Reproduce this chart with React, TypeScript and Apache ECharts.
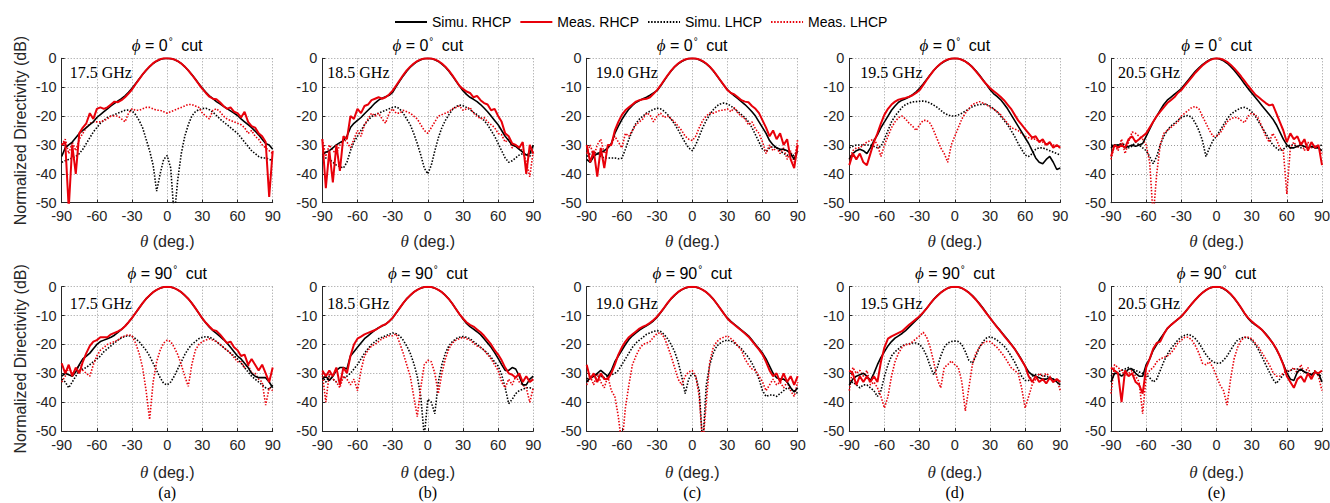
import React, { useEffect, useRef } from "react";
import * as echarts from "echarts";

// ---------- categories / labels ----------
const THETA = [
  -90, -87, -84, -81, -78, -75, -72, -69, -66, -63,
  -60, -57, -54, -51, -48, -45, -42, -39, -36, -33,
  -30, -27, -24, -21, -18, -15, -12, -9, -6, -3,
  0,
  3, 6, 9, 12, 15, 18, 21, 24, 27, 30,
  33, 36, 39, 42, 45, 48, 51, 54, 57, 60,
  63, 66, 69, 72, 75, 78, 81, 84, 87, 90,
];
const SERIES_NAMES = ["Simu. RHCP", "Meas. RHCP", "Simu. LHCP", "Meas. LHCP"];
const FREQ_LABELS = ["17.5 GHz", "18.5 GHz", "19.0 GHz", "19.5 GHz", "20.5 GHz"];
const CUT_ANGLES = ["0", "90"];
const PANEL_TAGS = ["(a)", "(b)", "(c)", "(d)", "(e)"];
const Y_NAME = "Normalized Directivity (dB)";
const X_NAME = "(deg.)";
const X_MIN = -90, X_MAX = 90, X_STEP = 30;
const Y_MIN = -50, Y_MAX = 0, Y_STEP = 10;

// ---------- phi = 0 cut ----------
const A0_SR = [
  -34, -31, -30, -29, -27.5, -26, -25, -24, -23, -22,
  -20.5, -19.5, -18.5, -17.5, -16.5, -15.6, -14.8, -14, -13, -11.8,
  -10.4, -8.8, -7.2, -5.6, -4.2, -2.9, -1.8, -1, -0.4, -0.1,
  0,
  -0.1, -0.4, -1, -1.8, -2.9, -4.2, -5.6, -7.2, -8.8, -10.4,
  -11.8, -13, -14, -15, -15.8, -16.6, -17.4, -18.2, -19, -19.8,
  -21, -22, -23, -24, -25.2, -26.5, -28, -29.5, -30, -31.5,
];
const A0_MR = [
  -30, -29, -52, -30, -40, -26, -24, -22.5, -19, -21,
  -17.5, -17, -17.5, -17, -16, -15, -15.2, -14.5, -13.5, -12.2,
  -10.8, -9, -7.3, -5.6, -4.1, -2.8, -1.7, -0.9, -0.3, 0,
  0,
  -0.1, -0.4, -1, -1.8, -2.9, -4.2, -5.7, -7.3, -9, -10.6,
  -12, -13.3, -14, -14.2, -15.2, -16.5, -17.5, -17, -18.5, -19,
  -20.5, -18.5, -22, -23.5, -24, -26, -27, -29, -48, -32,
];
const A0_SL = [
  -36, -35.5, -35, -34.5, -34, -33, -31.5, -29.5, -27.5, -25.5,
  -24, -22.5, -21.5, -20.5, -20, -19.5, -19, -18.5, -18, -17.9,
  -18.2, -19.5, -21.5, -24, -28, -32, -37, -46, -40, -35,
  -33.7,
  -38, -55, -42, -33, -27, -23, -20, -18.5, -17.8, -17.4,
  -17.3, -17.8, -18.7, -19.8, -21, -22, -23, -24, -25, -26,
  -27.5, -29, -30.5, -32, -33, -34, -34.5, -34.5, -35, -35.5,
];
const A0_ML = [
  -30, -28, -33, -29, -32, -28, -26, -24, -22.5, -22,
  -22, -22, -21.5, -21, -20, -20, -20, -21, -22, -19,
  -17.5, -18, -18, -17.5, -17, -17, -17.5, -18, -18, -18.5,
  -19,
  -18.5, -18, -17.5, -17, -16.5, -16, -16, -16.5, -17, -19,
  -20, -21, -18, -17.5, -18.5, -20, -21, -21.5, -22, -22.5,
  -23, -24, -26, -25, -27, -28, -30, -31, -32, -33,
];

const B0_SR = [
  -33.5, -32.5, -32, -31, -30, -29.2, -28.5, -27, -24, -22.5,
  -21.5, -20.5, -19.2, -18, -16.8, -15.5, -14.5, -13.8, -13.3, -12.8,
  -11.8, -9.8, -7.9, -6.1, -4.5, -3.1, -2, -1.1, -0.5, -0.1,
  0,
  -0.1, -0.5, -1.1, -2, -3.1, -4.5, -6.1, -7.9, -9.6, -11.2,
  -12.5, -13.5, -14.2, -15, -16, -17.2, -18.5, -20, -21.5, -23,
  -25, -27, -28.5, -30, -30.5, -31.5, -32.5, -33.5, -33, -30,
];
const B0_MR = [
  -28, -45, -32, -43, -30, -39, -27, -28, -20, -21,
  -17.5, -19, -16.5, -16, -14.5, -14, -13.5, -14, -13.5, -12.5,
  -11.2, -9.4, -7.6, -5.8, -4.2, -2.9, -1.8, -1, -0.4, -0.1,
  0,
  -0.1, -0.4, -1, -1.8, -2.9, -4.3, -5.9, -7.7, -9.5, -10.6,
  -11.5, -12, -13.5, -13, -14.5, -15.5, -16, -18, -17.5, -20,
  -22, -26, -27, -29.5, -30, -31, -29, -40, -30, -33,
];
const B0_SL = [
  -34, -34.5, -35, -36, -37, -37.5, -38, -36, -32, -29,
  -27, -25, -23, -21.5, -20.2, -19.5, -19, -18.5, -18, -17.5,
  -17, -16.8, -17.5, -19, -21, -23, -26, -29.5, -33.5, -38,
  -40,
  -37, -32, -27.5, -24, -21.5, -19.5, -17.8, -16.7, -16.2, -16.4,
  -17, -17.8, -18.7, -19.5, -20.5, -21.5, -23, -25, -27, -29.5,
  -32, -34.5, -36, -35.5, -34.5, -33.5, -33, -33.5, -34, -30,
];
const B0_ML = [
  -28, -34, -30, -32, -33, -30, -28, -29, -31, -28,
  -25, -27, -23, -21, -19, -20, -19, -21, -22.5, -19,
  -17.5, -19, -19, -18, -18.5, -19, -20, -21, -23, -25,
  -26,
  -24, -22, -20, -19.5, -19, -18.5, -17.5, -17, -16.5, -18,
  -17.5, -17, -19, -20, -21, -20.5, -22, -23, -24, -26,
  -26.5, -29, -28, -31, -30, -31, -32, -36, -41, -32,
];

const C0_SR = [
  -35, -36, -34, -33, -32.5, -32, -31, -29.5, -26, -23.5,
  -21.2, -19.3, -17.6, -16.3, -15.3, -14.6, -14, -13.5, -12.8, -12,
  -11.2, -9.6, -7.8, -6, -4.4, -3, -1.9, -1.1, -0.5, -0.1,
  0,
  -0.1, -0.5, -1.1, -1.9, -3, -4.4, -6, -7.7, -9.3, -10.8,
  -12, -13, -14, -15, -16, -17.2, -18.5, -20, -22, -24,
  -26, -28.5, -30, -31, -31.5, -31.5, -32, -33, -35, -32,
];
const C0_MR = [
  -30, -36, -32, -41, -31, -38, -30, -30, -25, -22,
  -19.6, -18, -17, -16, -15, -14.5, -14.2, -14, -13.5, -12.3,
  -11, -9.4, -7.6, -5.9, -4.3, -2.9, -1.8, -1, -0.4, -0.1,
  0,
  -0.1, -0.4, -1, -1.8, -2.9, -4.3, -5.9, -7.6, -9.3, -11,
  -12, -12.5, -13.5, -14.5, -15, -15.2, -16.5, -17.5, -19, -21.5,
  -24, -27, -25, -28, -26, -30, -28, -35, -38, -30,
];
const C0_SL = [
  -34, -33, -32.5, -33, -34, -34.5, -34.5, -34.5, -34.5, -34.8,
  -34.6, -31.5, -28, -25, -22.5, -21, -20, -19, -18.3, -17.7,
  -17.3, -17.5, -18.3, -19.5, -21, -22.8, -24.8, -27, -29.2, -31,
  -32,
  -30, -27, -24, -21.5, -19.5, -17.8, -16.5, -15.8, -15.5, -15.8,
  -16.5, -17.5, -18.5, -19.5, -20.5, -22, -24, -26.5, -29, -31.5,
  -32.3, -31, -30.5, -31, -32, -33, -33.5, -34, -33.5, -32,
];
const C0_ML = [
  -33, -30, -34, -30, -28, -33, -31, -30, -27, -29,
  -31, -26, -27, -25, -23, -22, -21, -19, -19.5, -22,
  -20, -19, -20.5, -20, -21, -22, -23.5, -25, -27, -28,
  -28.5,
  -27, -24, -21.5, -20, -19, -19, -18.5, -18, -18, -17.5,
  -18.5, -17, -19, -20, -21, -23, -22, -24.5, -26, -29,
  -33, -30, -32, -31, -33, -31, -35, -32, -36, -28,
];

const D0_SR = [
  -35, -33, -32, -31.5, -32, -33, -31, -28.5, -26.5, -24,
  -22, -20, -18, -16.5, -15.2, -14.5, -14, -13.4, -12.6, -11.6,
  -10.4, -8.9, -7.3, -5.7, -4.2, -2.9, -1.9, -1.1, -0.5, -0.1,
  0,
  -0.1, -0.5, -1.1, -1.9, -3, -4.3, -5.8, -7.4, -9.1, -10.8,
  -12.2, -13.2, -14.3, -15.8, -17.5, -19.5, -21.5, -23.5, -25.5, -27.5,
  -29.5, -32, -34.5, -36, -36.5, -35, -34, -36, -38.5, -38,
];
const D0_MR = [
  -37, -33, -35, -33, -36, -37, -33, -29, -26, -22.5,
  -19.5, -17.5, -16, -15, -14.3, -14, -13.7, -13.3, -12.8, -12,
  -11, -9.3, -7.5, -5.8, -4.2, -2.9, -1.8, -1, -0.4, -0.1,
  0,
  -0.1, -0.5, -1.1, -2, -3.1, -4.5, -6, -7.6, -9, -10.3,
  -11.3, -12.3, -13.3, -14.5, -16, -17.5, -19.5, -21.5, -23, -24.5,
  -26, -27.5, -27, -29, -28, -30, -29, -31, -30, -31,
];
const D0_SL = [
  -31, -30.5, -30, -30, -30, -30, -30, -30.5, -31, -30.5,
  -28, -25, -22, -20, -18.5, -17, -16, -15.5, -15.1, -15,
  -14.9, -14.8, -15, -15.5, -16.2, -17, -18, -19, -19.6, -20,
  -20,
  -19.6, -19, -18.3, -17.5, -16.8, -16.3, -16, -15.9, -16, -16.5,
  -17.5, -18.5, -20, -21.5, -23, -25, -27, -29.5, -31.5, -33.5,
  -34, -33, -31.5, -31, -31, -31.5, -32, -32.5, -33, -33.5,
];
const D0_ML = [
  -35, -32, -31, -31, -30, -29, -28.5, -28, -30, -34,
  -30, -27, -24, -22, -20.5, -20, -21, -22.5, -23.5, -25,
  -23, -21.5, -21.5, -22.5, -25, -28, -31, -33, -36, -30,
  -27,
  -24, -21, -19, -17.5, -16, -15.5, -15, -15.5, -16, -17,
  -17.5, -18.5, -19.5, -21, -22.5, -24, -24.5, -25, -26, -27,
  -27.5, -28, -28, -29, -29, -30, -29.5, -30, -30.5, -31,
];

const E0_SR = [
  -31, -30, -30, -30, -31, -30.5, -30, -30.5, -30, -29.5,
  -27, -24.5, -22, -20, -18, -16, -14.5, -13.5, -12.5, -11.5,
  -10.5, -9, -7.5, -6, -4.5, -3.3, -2.2, -1.3, -0.6, -0.1,
  0,
  -0.3, -0.9, -1.7, -2.8, -4.1, -5.6, -7.2, -8.9, -10.5, -12,
  -13.5, -15, -16.5, -18, -19.5, -21, -23, -25.5, -28, -30,
  -31, -31, -30.5, -30, -30.5, -31, -30.5, -31, -31, -32,
];
const E0_MR = [
  -34, -30, -31, -30, -31, -28, -27, -29, -28, -27,
  -26, -24, -22, -20, -18.5, -17, -15.5, -14.5, -13.5, -12,
  -11, -9.5, -8, -6.5, -5, -3.7, -2.5, -1.5, -0.7, -0.2,
  0,
  -0.1, -0.5, -1.2, -2.2, -3.4, -4.8, -6.3, -7.9, -9.5, -11,
  -12.5, -13.5, -14.5, -15.5, -16.3, -16, -19, -22, -25, -29,
  -26, -28, -27, -30, -28, -32, -29, -31, -30, -37,
];
const E0_SL = [
  -30, -30, -30, -29.5, -30, -31, -30.5, -29, -30, -31,
  -32, -34, -36.5, -34, -30, -27, -25, -23.5, -22.5, -21.5,
  -20.5, -20, -19.8, -20.5, -22.5, -25, -28.5, -34, -31, -28.5,
  -27,
  -25, -23, -21, -19.5, -18.5, -17.8, -17.2, -17, -17.5, -18.5,
  -20, -22, -24, -26, -28, -30, -31, -32, -31.5, -30.5,
  -30, -30, -30.5, -31, -30.5, -30, -30.5, -31, -30.5, -30,
];
const E0_ML = [
  -35, -30, -32, -28, -33, -29, -25.5, -26, -27, -28,
  -30, -36, -55, -40, -30, -26, -25, -24, -23, -22,
  -20, -19, -18, -17, -16.7, -17.5, -20, -22.5, -25, -27,
  -27,
  -26, -24, -22, -21, -20.5, -20.5, -21.5, -22.3, -20, -19,
  -19.5, -21, -24, -27, -29, -26, -28, -31, -32, -47,
  -31, -29, -31, -29, -32, -29, -31, -30, -31, -33,
];

// ---------- phi = 90 cut ----------
const A9_SR = [
  -31, -30, -30.5, -31, -29.5, -27, -25, -24, -23, -21.5,
  -20, -19, -18.5, -18, -17.5, -16.8, -15.8, -14.8, -13.7, -12.3,
  -10.8, -9.1, -7.4, -5.7, -4.2, -3, -1.9, -1.1, -0.5, -0.1,
  0,
  -0.1, -0.5, -1.1, -1.9, -3, -4.2, -5.7, -7.4, -9.2, -11,
  -12.6, -14, -15.2, -16.2, -17.2, -18.3, -19.5, -21, -22.5, -24,
  -25, -26.5, -28, -30, -31, -31.5, -31.5, -31.5, -33, -35,
];
const A9_MR = [
  -26.5, -30, -27, -31, -28, -30, -26, -23, -20.5, -19,
  -18.5, -17.5, -17.5, -17.5, -16.5, -16, -15.5, -14.8, -13.7, -12.3,
  -10.8, -9.1, -7.4, -5.7, -4.2, -3, -1.9, -1.1, -0.5, -0.1,
  0,
  -0.1, -0.5, -1.1, -1.9, -3, -4.2, -5.7, -7.4, -9.2, -11,
  -12.5, -13.8, -15, -15.3, -16.5, -18, -19.5, -19, -21, -22,
  -24, -23.5, -27, -25, -27, -29, -27, -30, -33, -28,
];
const A9_SL = [
  -32, -33, -35, -33, -31, -29, -28.5, -28, -27, -26,
  -25, -24, -22.5, -21.5, -20.5, -19.5, -18.5, -17.7, -17.2, -17,
  -17.2, -18, -19, -20.5, -22, -24, -26.5, -29, -31.5, -33.5,
  -34,
  -33, -31, -28.5, -26, -23.5, -21.5, -20, -19, -18, -17.5,
  -17.3, -17.5, -18, -19, -20, -21, -22, -23, -24, -25,
  -26.5, -28, -29.5, -31, -32, -33, -34, -35, -35.5, -34,
];
const A9_ML = [
  -33, -31, -28, -30, -29, -27, -29, -30, -31, -27,
  -24, -22, -21, -20, -19.5, -19, -18.5, -17.5, -17, -16.6,
  -17, -19.5, -23, -28, -36, -46, -33, -26, -22, -19.5,
  -18.5,
  -19, -21, -23.5, -27, -31, -34.5, -27, -22, -20, -19,
  -18.5, -18, -18.5, -19, -20, -21, -22, -23, -24.5, -26,
  -26, -28, -27, -30, -30, -32, -33, -41, -35, -36,
];

const B9_SR = [
  -32, -31, -32.5, -31, -29, -28, -28, -28.5, -24, -22.5,
  -21, -19.5, -18, -17, -16, -15, -14.2, -13.6, -13, -12,
  -10.8, -9.1, -7.4, -5.7, -4.2, -3, -1.9, -1.1, -0.5, -0.1,
  0,
  -0.1, -0.5, -1.1, -1.9, -3, -4.3, -5.9, -7.7, -9.5, -11.2,
  -12.7, -13.8, -14.7, -15.6, -16.6, -18, -19.5, -21, -22.8, -24.8,
  -27, -29, -29, -28, -28.5, -31, -34, -34, -32, -31,
];
const B9_MR = [
  -29, -31, -29, -31, -28, -34, -28, -30, -24, -20,
  -18, -17.3, -16.5, -16, -15.5, -15, -14.3, -13.5, -13, -12,
  -10.8, -9.1, -7.4, -5.7, -4.2, -3, -1.9, -1.1, -0.5, -0.1,
  0,
  -0.1, -0.5, -1.1, -1.9, -3, -4.3, -5.9, -7.7, -9.5, -11,
  -12.3, -13.2, -13.8, -14.8, -15.8, -17, -18.5, -20, -22, -23.5,
  -25.5, -28, -30, -30.5, -31.5, -30, -33, -31, -33, -32,
];
const B9_SL = [
  -31, -33, -31, -32, -33, -32, -31.5, -31, -30, -28.5,
  -27, -25, -23, -21.5, -20, -19, -18, -17.5, -17, -16.5,
  -16, -16.3, -17, -18.5, -20.5, -23, -26.5, -31, -38, -52,
  -39,
  -40, -44, -33, -27, -23, -20.5, -19, -18, -17.5, -17.3,
  -17.5, -18, -19, -20, -21, -22, -23, -24.5, -26, -27.5,
  -30.5, -35, -40.5, -39, -37, -36, -35.5, -35, -35, -35.5,
];
const B9_ML = [
  -30, -40, -30, -32, -33, -35, -31, -32, -34, -32,
  -36, -29, -24, -22, -20.5, -20, -19, -18, -17.5, -17,
  -17, -16.3, -19.5, -23, -27, -31, -38, -45, -35, -27,
  -25.5,
  -26, -30, -37, -30, -25, -21.5, -19.5, -18.5, -18, -17.5,
  -18, -18.5, -19.5, -20.5, -21, -22, -23.5, -25, -27, -29,
  -33, -35, -32, -34, -31, -33, -34, -35, -40, -35,
];

const C9_SR = [
  -33, -31.5, -31, -30, -29, -30, -31, -29, -26, -24,
  -22, -20, -18.3, -17, -16, -15, -14.2, -13.5, -12.8, -11.8,
  -10.6, -9, -7.4, -5.7, -4.2, -3, -1.9, -1.1, -0.5, -0.1,
  0,
  -0.1, -0.5, -1.1, -1.9, -3, -4.3, -5.9, -7.6, -9.3, -10.8,
  -12, -13, -14, -15, -16, -17, -18.5, -20, -21.5, -23,
  -25, -27.5, -30, -31.5, -32, -32, -33, -35, -36.5, -35,
];
const C9_MR = [
  -27, -32, -30, -33, -30, -32, -32, -30, -27, -23.5,
  -21, -19, -17.5, -16.5, -15.5, -14.5, -13.8, -13.3, -12.5, -11.5,
  -10.4, -8.9, -7.3, -5.6, -4.1, -2.9, -1.8, -1, -0.4, -0.1,
  0,
  -0.1, -0.5, -1.1, -1.9, -3, -4.3, -5.9, -7.6, -9.3, -11,
  -12.2, -13.2, -14.2, -15.2, -16.2, -17.3, -18.8, -20.3, -21.8, -23.5,
  -26, -29, -31, -30, -33, -30, -33, -31, -34, -31,
];
const C9_SL = [
  -32, -31, -31.5, -31, -31, -31.5, -31, -30.5, -30, -29,
  -27, -25, -23, -21, -19.5, -18.5, -17.5, -16.5, -16, -15.5,
  -15.2, -15.5, -16.5, -18, -20, -22.5, -26, -31, -37, -32,
  -30,
  -31, -36, -55, -34, -27, -23, -20.5, -19.5, -18.8, -18.5,
  -18.8, -19.5, -20.5, -21.5, -23, -24.5, -26.5, -29, -32, -36,
  -38, -37.5, -37.5, -38, -37, -36, -35, -35.5, -36, -37,
];
const C9_ML = [
  -34, -31, -34, -30, -33, -35, -31, -36, -38, -45,
  -55, -42, -34, -27, -24, -21.5, -20, -19.5, -19, -17.5,
  -16.2, -16, -17.5, -20.5, -24, -28, -32, -34, -31, -29.5,
  -29,
  -31, -38, -55, -40, -26, -21, -19, -18, -17.5, -17,
  -18, -19, -20.5, -22, -25, -27, -28.5, -29, -31, -33,
  -36, -34, -32, -34, -33, -35, -33, -36, -38, -33,
];

const D9_SR = [
  -34, -32, -31, -30.5, -30, -31, -32.5, -30, -27, -24.5,
  -22.5, -20.5, -19, -17.8, -17, -16.2, -15.2, -14, -12.8, -11.6,
  -10.5, -9, -7.5, -5.9, -4.4, -3.1, -2, -1.2, -0.5, -0.1,
  0,
  -0.1, -0.5, -1.2, -2, -3.1, -4.4, -5.8, -7.4, -9.1, -10.8,
  -12.4, -13.9, -15.3, -16.8, -18.3, -19.8, -21.5, -23.3, -25.3, -27.5,
  -29.5, -30.5, -31, -31.5, -32, -32, -31.5, -32, -33, -34,
];
const D9_MR = [
  -29, -30, -34, -31, -33, -31, -33, -31, -33, -26,
  -21, -18, -17.2, -16.6, -16, -15.4, -14.3, -13.2, -12.2, -11.2,
  -10.2, -8.9, -7.5, -5.9, -4.4, -3.2, -2.1, -1.2, -0.5, -0.1,
  0,
  -0.1, -0.5, -1.2, -2.1, -3.2, -4.5, -6, -7.6, -9.2, -10.8,
  -12.4, -14, -15.5, -17, -18.5, -20, -21.5, -23.5, -25.5, -27.5,
  -31, -33, -31, -33, -32, -33.5, -31.5, -33, -32, -33,
];
const D9_SL = [
  -34, -33, -34, -35, -34, -34, -35, -36, -38, -36,
  -31, -27, -24, -22.5, -21.5, -20.5, -20, -19.8, -19.5, -19.5,
  -20, -21.5, -24, -27.5, -30.5, -28, -24, -21, -19.5, -19,
  -18.8,
  -19, -20, -22.5, -25.5, -26.5, -24, -21, -19, -17.8, -17.3,
  -17.8, -18.5, -19.5, -20.5, -22, -24, -26, -28.5, -31, -32.5,
  -32.5, -31, -30.5, -30.5, -30.8, -31, -31.5, -32, -32.5, -33,
];
const D9_ML = [
  -36, -28, -30, -29, -31, -29, -34, -33, -35, -38,
  -42, -38, -31, -26, -23, -21, -20, -20, -19, -18,
  -17, -15.8, -17.5, -21, -26, -32, -35, -28, -27, -25.7,
  -27,
  -28, -33, -43, -35, -27, -23, -21, -19.5, -19, -19,
  -20, -21, -22.5, -24, -26, -28, -29, -30, -35, -42,
  -38, -34, -32, -30, -31, -30, -31, -33, -32, -36,
];

const E9_SR = [
  -33, -30, -30, -31, -30, -28.5, -28.5, -30, -31, -31,
  -27, -25, -22, -20, -18, -16.3, -14.5, -13.3, -12.3, -11.3,
  -10.3, -8.9, -7.4, -5.9, -4.5, -3.2, -2.1, -1.2, -0.5, -0.1,
  0,
  -0.2, -0.7, -1.5, -2.6, -4, -5.6, -7.4, -9.3, -11, -12.3,
  -13.2, -14, -15, -16.3, -17.8, -19.6, -21.6, -24, -26.8, -29.8,
  -32, -32.5, -29.5, -28.5, -29.5, -30, -30.5, -29.5, -30, -33,
];
const E9_MR = [
  -28, -29, -30, -40, -29, -31, -30, -33, -34, -37,
  -28, -25, -21.5, -19.5, -19, -16.5, -14.5, -13.3, -12.3, -11.3,
  -10.3, -8.9, -7.4, -5.9, -4.5, -3.2, -2.1, -1.2, -0.5, -0.1,
  0,
  -0.1, -0.6, -1.4, -2.5, -3.9, -5.5, -7.3, -9.2, -10.8, -12,
  -13, -14, -15, -16.5, -18, -19.5, -21.5, -24, -27, -31,
  -33, -35, -32, -31, -33, -30, -32, -29.5, -30, -29,
];
const E9_SL = [
  -31, -30, -29.5, -29, -28.5, -28, -28.5, -29, -29.5, -30,
  -30.5, -31.5, -33, -32, -29, -26, -23.5, -21.5, -20, -18.5,
  -17.5, -16.8, -16.5, -17, -18, -19.5, -21.5, -23.5, -25, -26,
  -26.5,
  -26.5, -25.5, -24, -22, -20, -18.5, -17.8, -17.5, -17.8, -18.5,
  -20, -22, -24.5, -27, -29.5, -32, -33.5, -32, -30.5, -29.5,
  -29, -28.5, -28.5, -29, -29.5, -30, -30.5, -30, -30.5, -31,
];
const E9_ML = [
  -37, -27, -28, -29, -31, -30, -29, -31, -33, -44,
  -31, -29, -28, -26, -25, -24.5, -24, -23, -21.5, -19.5,
  -18.5, -17.5, -17.5, -18.5, -20.5, -23, -26.5, -27, -26, -28,
  -31,
  -34, -36, -41, -32, -25, -21, -18.5, -17.5, -17.5, -18,
  -19.5, -21, -23, -25, -27, -29.5, -31, -31, -30, -29,
  -29, -28, -30, -27, -30, -28, -31, -29, -31, -36,
];

// rows: [phi=0, phi=90]; each panel: [Simu RHCP, Meas RHCP, Simu LHCP, Meas LHCP]
const PANEL_CURVES = [
  [
    [A0_SR, A0_MR, A0_SL, A0_ML],
    [B0_SR, B0_MR, B0_SL, B0_ML],
    [C0_SR, C0_MR, C0_SL, C0_ML],
    [D0_SR, D0_MR, D0_SL, D0_ML],
    [E0_SR, E0_MR, E0_SL, E0_ML],
  ],
  [
    [A9_SR, A9_MR, A9_SL, A9_ML],
    [B9_SR, B9_MR, B9_SL, B9_ML],
    [C9_SR, C9_MR, C9_SL, C9_ML],
    [D9_SR, D9_MR, D9_SL, D9_ML],
    [E9_SR, E9_MR, E9_SL, E9_ML],
  ],
];

// ---------- layout & style ----------
const COL_LEFT = [61.7, 322.3, 586.7, 849.3, 1111];
const PLOT_W = 211;
const ROW_TOP = [58.3, 286.7];
const PLOT_H = 144.4;
const FREQ_DX = [8, 5, 9, 11, 7];
const FREQ_DY = [14, 17];
const TITLE_Y = [45, 273];
const XNAME_Y = [241, 472];
const TAG_Y = 492;

const SANS = "'Liberation Sans', Arial, Helvetica, sans-serif";
const SERIF = "'Liberation Serif', 'Times New Roman', 'DejaVu Serif', serif";
const AXIS_COLOR = "#262626";
const RED = "#e8000a";
const DOT: number[] = [1.5, 1.6];
const LINE_STYLES = [
  { color: "#000000", width: 1.6, type: "solid" as any, z: 3 },
  { color: RED, width: 2, type: "solid" as any, z: 4 },
  { color: "#000000", width: 1.6, type: DOT as any, z: 1 },
  { color: RED, width: 1.6, type: DOT as any, z: 2 },
];
const DRAW_ORDER = [2, 3, 0, 1];

function buildOption() {
  const grids: any[] = [];
  const xAxes: any[] = [];
  const yAxes: any[] = [];
  const series: any[] = [];
  const graphics: any[] = [];
  let idx = 0;
  for (let r = 0; r < 2; r++) {
    for (let c = 0; c < 5; c++) {
      grids.push({
        left: COL_LEFT[c],
        top: ROW_TOP[r],
        width: PLOT_W,
        height: PLOT_H,
        containLabel: false,
        outerBoundsMode: "none",
      });
      xAxes.push({
        gridIndex: idx,
        type: "value",
        min: X_MIN,
        max: X_MAX,
        interval: X_STEP,
        axisLine: { show: true, onZero: false, lineStyle: { color: AXIS_COLOR, width: 1 } },
        axisTick: { show: true, inside: true, length: 3, lineStyle: { color: AXIS_COLOR } },
        axisLabel: {
          color: AXIS_COLOR,
          fontSize: 14.5,
          fontFamily: SANS,
          margin: 6,
          showMinLabel: true,
          showMaxLabel: true,
        },
        splitLine: { show: true, lineStyle: { color: "#9a9a9a", type: [1, 2], width: 1 } },
      });
      yAxes.push({
        gridIndex: idx,
        type: "value",
        min: Y_MIN,
        max: Y_MAX,
        interval: Y_STEP,
        axisLine: { show: true, onZero: false, lineStyle: { color: AXIS_COLOR, width: 1 } },
        axisTick: { show: true, inside: true, length: 3, lineStyle: { color: AXIS_COLOR } },
        axisLabel: {
          color: AXIS_COLOR,
          fontSize: 14.5,
          fontFamily: SANS,
          margin: 5,
          showMinLabel: true,
          showMaxLabel: true,
        },
        splitLine: { show: true, lineStyle: { color: "#9a9a9a", type: [1, 2], width: 1 } },
      });
      const curves = PANEL_CURVES[r][c];
      for (const k of DRAW_ORDER) {
        const st = LINE_STYLES[k];
        series.push({
          name: SERIES_NAMES[k],
          type: "line",
          xAxisIndex: idx,
          yAxisIndex: idx,
          data: THETA.map((t, i) => [t, curves[k][i]]),
          symbol: "none",
          showSymbol: false,
          clip: true,
          silent: true,
          z: st.z,
          color: st.color,
          itemStyle: { color: st.color },
          lineStyle: { color: st.color, width: st.width, type: st.type, cap: "butt" },
          emphasis: { disabled: true },
        });
      }

      const cx = COL_LEFT[c] + PLOT_W / 2;
      // panel title
      graphics.push({
        type: "text",
        x: cx,
        y: TITLE_Y[r],
        z: 100,
        silent: true,
        style: {
          text: `{p|\u03D5} = ${CUT_ANGLES[r]}{d|\u00B0} cut`,
          fontFamily: SANS,
          fontSize: 16,
          fill: "#000",
          align: "center",
          verticalAlign: "middle",
          rich: {
            p: { fontFamily: SERIF, fontStyle: "italic", fontSize: 17, fill: "#000" },
            d: { fontFamily: SANS, fontSize: 10, verticalAlign: "top", padding: [0, 4, 0, 1], fill: "#000" },
          },
        },
      });
      // frequency label
      graphics.push({
        type: "text",
        x: COL_LEFT[c] + FREQ_DX[c],
        y: ROW_TOP[r] + FREQ_DY[r],
        z: 100,
        silent: true,
        style: {
          text: FREQ_LABELS[c],
          fontFamily: SERIF,
          fontSize: 16,
          fill: "#000",
          align: "left",
          verticalAlign: "middle",
        },
      });
      // x-axis name
      graphics.push({
        type: "text",
        x: cx,
        y: XNAME_Y[r],
        z: 100,
        silent: true,
        style: {
          text: `{t|\u03B8} ${X_NAME}`,
          fontFamily: SANS,
          fontSize: 16,
          fill: AXIS_COLOR,
          align: "center",
          verticalAlign: "middle",
          rich: {
            t: { fontFamily: SERIF, fontStyle: "italic", fontSize: 17, fill: AXIS_COLOR },
          },
        },
      });
      idx++;
    }
    // y-axis name
    graphics.push({
      type: "text",
      x: 20.5,
      y: ROW_TOP[r] + PLOT_H / 2,
      rotation: Math.PI / 2,
      z: 100,
      silent: true,
      style: {
        text: Y_NAME,
        fontFamily: SANS,
        fontSize: 16,
        fill: AXIS_COLOR,
        align: "center",
        verticalAlign: "middle",
      },
    });
  }
  for (let c = 0; c < 5; c++) {
    graphics.push({
      type: "text",
      x: COL_LEFT[c] + PLOT_W / 2,
      y: TAG_Y,
      z: 100,
      silent: true,
      style: {
        text: PANEL_TAGS[c],
        fontFamily: SERIF,
        fontSize: 16,
        fill: "#000",
        align: "center",
        verticalAlign: "middle",
      },
    });
  }

  return {
    animation: false,
    backgroundColor: "#ffffff",
    legend: {
      data: SERIES_NAMES,
      left: 389,
      top: 10,
      itemWidth: 32,
      itemHeight: 14,
      itemGap: 8,
      selectedMode: false,
      itemStyle: { opacity: 0, borderWidth: 0 },
      textStyle: { fontFamily: SANS, fontSize: 14, color: "#000" },
    },
    grid: grids,
    xAxis: xAxes,
    yAxis: yAxes,
    series,
    graphic: graphics,
  };
}

export default function App() {
  const ref = useRef<HTMLDivElement>(null);
  useEffect(() => {
    document.body.style.margin = "0";
    document.body.style.overflow = "hidden";
    if (!ref.current) return;
    const chart = echarts.init(ref.current, null, { renderer: "svg" });
    chart.setOption(buildOption() as any);
    return () => {
      chart.dispose();
    };
  }, []);
  return (
    <div
      ref={ref}
      style={{ position: "absolute", left: 0, top: 0, width: 1330, height: 503, background: "#fff" }}
    />
  );
}
